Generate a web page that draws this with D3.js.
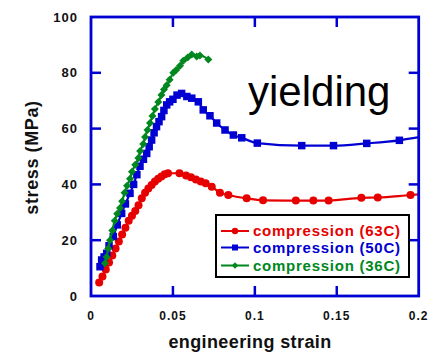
<!DOCTYPE html>
<html>
<head>
<meta charset="utf-8">
<script src="https://cdn.jsdelivr.net/npm/d3@7/dist/d3.min.js"></script>
<style>
  html, body { margin: 0; padding: 0; background: #fff; }
  svg { display: block; font-family: "Liberation Sans", Arial, Helvetica, sans-serif; }
</style>
</head>
<body>
<svg id="chart" width="435" height="353"></svg>
<script>
// Engineering stress-strain curves in compression at three temperatures
// Each entry: [engineering strain, stress (MPa)]
const series63C = [
  [0.005, 4.8], [0.007, 7], [0.009, 9.5], [0.011, 12], [0.013, 14.5], [0.015, 17],
  [0.017, 19.5], [0.019, 22], [0.021, 24.5], [0.023, 27], [0.025, 28.8], [0.027, 30.5],
  [0.029, 32.5], [0.031, 35], [0.033, 37], [0.035, 38.5], [0.037, 39.8], [0.039, 41],
  [0.041, 42], [0.043, 42.8], [0.045, 43.6], [0.047, 44], [0.054, 44], [0.058, 43.2],
  [0.061, 42.6], [0.064, 41.8], [0.067, 41], [0.070, 40.4], [0.0737, 39.2], [0.0787, 37],
  [0.0838, 36.2], [0.095, 35], [0.105, 34.3], [0.125, 34.2], [0.1357, 34.2], [0.145, 34.2],
  [0.165, 35.2], [0.175, 35.3], [0.195, 36.2], [0.205, 36.6]
];
const series50C = [
  [0.0055, 10.5], [0.0065, 12.9], [0.008, 14], [0.0096, 15.3], [0.011, 18], [0.0136, 21.3],
  [0.016, 25.5], [0.0187, 29.6], [0.021, 33], [0.0238, 36.8], [0.026, 40], [0.028, 43.5],
  [0.0299, 46.5], [0.032, 49], [0.034, 51.1], [0.0355, 53.5], [0.037, 55.9], [0.0385, 58.5],
  [0.040, 60.7], [0.0415, 62.5], [0.0431, 64.3], [0.0445, 66.5], [0.0462, 68.5], [0.048, 69.6],
  [0.050, 70.5], [0.0525, 72], [0.0553, 72.6], [0.0585, 71.5], [0.0615, 70.9], [0.0655, 69.6],
  [0.0685, 66.7], [0.0726, 64.6], [0.0767, 62], [0.0818, 59.5], [0.0869, 57.7], [0.092, 56.7],
  [0.1015, 54.8], [0.1286, 53.9], [0.148, 53.9], [0.1683, 54.7], [0.1882, 55.8], [0.205, 57.4]
];
const series36C = [
  [0.0085, 11.7], [0.0095, 14], [0.0105, 17], [0.0116, 20], [0.013, 23.5], [0.0145, 27],
  [0.016, 29.5], [0.0177, 31.5], [0.019, 34], [0.0205, 37], [0.022, 39.5], [0.0238, 42],
  [0.025, 44.5], [0.027, 47], [0.0289, 49.5], [0.030, 52], [0.0319, 54.5], [0.033, 57],
  [0.0345, 59.5], [0.036, 62], [0.0375, 64.5], [0.039, 67], [0.0411, 69.5], [0.043, 72],
  [0.0445, 74], [0.0462, 75.5], [0.048, 77.5], [0.0502, 80], [0.052, 81], [0.0543, 82.5],
  [0.0563, 84.3], [0.059, 85.5], [0.0615, 86.6], [0.0645, 85.8], [0.0665, 86.2], [0.0716, 84.8]
];

const seriesNames = ["compression (63C)", "compression (50C)", "compression (36C)"];
const seriesColors = ["#e60000", "#0000d2", "#00871e"];
const seriesMarkers = ["circle", "square", "diamond"];

const xTicks = [0, 0.05, 0.1, 0.15, 0.2];
const xTickLabels = ["0", "0.05", "0.1", "0.15", "0.2"];
const yTicks = [0, 20, 40, 60, 80, 100];
const yTickLabels = ["0", "20", "40", "60", "80", "100"];

const svg = d3.select("#chart");
const plot = { left: 91, top: 17, right: 418.7, bottom: 296 };
const frameColor = "#0000d2";

const x = d3.scaleLinear().domain([0, 0.2]).range([plot.left, plot.right]);
const y = d3.scaleLinear().domain([0, 100]).range([plot.bottom, plot.top]);

svg.append("defs").append("clipPath").attr("id", "plot-clip")
  .append("rect")
  .attr("x", plot.left).attr("y", plot.top)
  .attr("width", plot.right - plot.left).attr("height", plot.bottom - plot.top);

// Inward ticks on all four sides
const tickLen = 10;
const innerX = xTicks.filter(t => t > 0 && t < 0.2);
const innerY = yTicks.filter(t => t > 0 && t < 100);
const ticks = svg.append("g").attr("stroke", frameColor).attr("stroke-width", 2.5);
innerX.forEach(t => {
  ticks.append("line").attr("x1", x(t)).attr("x2", x(t)).attr("y1", plot.bottom).attr("y2", plot.bottom - tickLen);
  ticks.append("line").attr("x1", x(t)).attr("x2", x(t)).attr("y1", plot.top).attr("y2", plot.top + tickLen);
});
innerY.forEach(t => {
  ticks.append("line").attr("y1", y(t)).attr("y2", y(t)).attr("x1", plot.left).attr("x2", plot.left + tickLen);
  ticks.append("line").attr("y1", y(t)).attr("y2", y(t)).attr("x1", plot.right).attr("x2", plot.right - tickLen);
});

// Tick labels
svg.append("g").selectAll("text").data(xTicks).join("text")
  .attr("x", d => x(d)).attr("y", 320)
  .attr("text-anchor", "middle")
  .attr("font-size", 12).attr("font-weight", "bold")
  .style("letter-spacing", "1px")
  .attr("fill", "#111")
  .text((d, i) => xTickLabels[i]);

svg.append("g").selectAll("text").data(yTicks).join("text")
  .attr("x", 78).attr("y", d => y(d) + 4.5)
  .attr("text-anchor", "end")
  .attr("font-size", 13).attr("font-weight", "bold")
  .style("letter-spacing", "1px")
  .attr("fill", "#111")
  .text((d, i) => yTickLabels[i]);

// Axis titles
svg.append("text")
  .attr("x", 250).attr("y", 348)
  .attr("text-anchor", "middle")
  .attr("font-size", 18).attr("font-weight", "bold")
  .style("letter-spacing", "0.4px")
  .attr("fill", "#111")
  .text("engineering strain");

svg.append("text")
  .attr("transform", "translate(38,157.5) rotate(-90)")
  .attr("text-anchor", "middle")
  .attr("font-size", 18).attr("font-weight", "bold")
  .style("letter-spacing", "0.6px")
  .attr("fill", "#111")
  .text("stress (MPa)");

// Curves
const line = d3.line().x(d => x(d[0])).y(d => y(d[1])).curve(d3.curveMonotoneX);
const allSeries = [series63C, series50C, series36C];

function drawMarker(g, type, cx, cy, color, scale = 1) {
  if (type === "circle") {
    g.append("circle").attr("cx", cx).attr("cy", cy).attr("r", 4 * scale).attr("fill", color);
  } else if (type === "square") {
    const s = 7.5 * scale;
    g.append("rect").attr("x", cx - s / 2).attr("y", cy - s / 2).attr("width", s).attr("height", s).attr("fill", color);
  } else {
    g.append("path")
      .attr("d", d3.symbol(d3.symbolSquare, 32 * scale * scale)())
      .attr("transform", `translate(${cx},${cy}) rotate(45)`)
      .attr("fill", color);
  }
}

const curves = svg.append("g").attr("clip-path", "url(#plot-clip)");
allSeries.forEach((data, i) => {
  const g = curves.append("g");
  g.append("path").datum(data)
    .attr("d", line)
    .attr("fill", "none")
    .attr("stroke", seriesColors[i])
    .attr("stroke-width", 2.2);
  data.forEach(d => drawMarker(g, seriesMarkers[i], x(d[0]), y(d[1]), seriesColors[i]));
});

// Plot frame
svg.append("rect")
  .attr("x", plot.left).attr("y", plot.top)
  .attr("width", plot.right - plot.left).attr("height", plot.bottom - plot.top)
  .attr("fill", "none").attr("stroke", frameColor).attr("stroke-width", 2.8);

// Annotation
svg.append("text")
  .attr("x", 248).attr("y", 106)
  .attr("font-size", 42)
  .attr("fill", "#000")
  .text("yielding");

// Legend
const legend = svg.append("g");
legend.append("rect")
  .attr("x", 216).attr("y", 215).attr("width", 193).attr("height", 62)
  .attr("fill", "#fff").attr("stroke", "#000").attr("stroke-width", 2);
const legendBaselines = [236, 252.5, 270.5];
seriesNames.forEach((name, i) => {
  const by = legendBaselines[i];
  const ly = by - 5;
  legend.append("line")
    .attr("x1", 221).attr("x2", 249).attr("y1", ly).attr("y2", ly)
    .attr("stroke", seriesColors[i]).attr("stroke-width", 2);
  drawMarker(legend, seriesMarkers[i], 235, ly, seriesColors[i], 0.8);
  legend.append("text")
    .attr("x", 253).attr("y", by)
    .attr("font-size", 15).attr("font-weight", "bold")
    .style("letter-spacing", "0.75px")
    .attr("fill", seriesColors[i])
    .text(name);
});
</script>
</body>
</html>
